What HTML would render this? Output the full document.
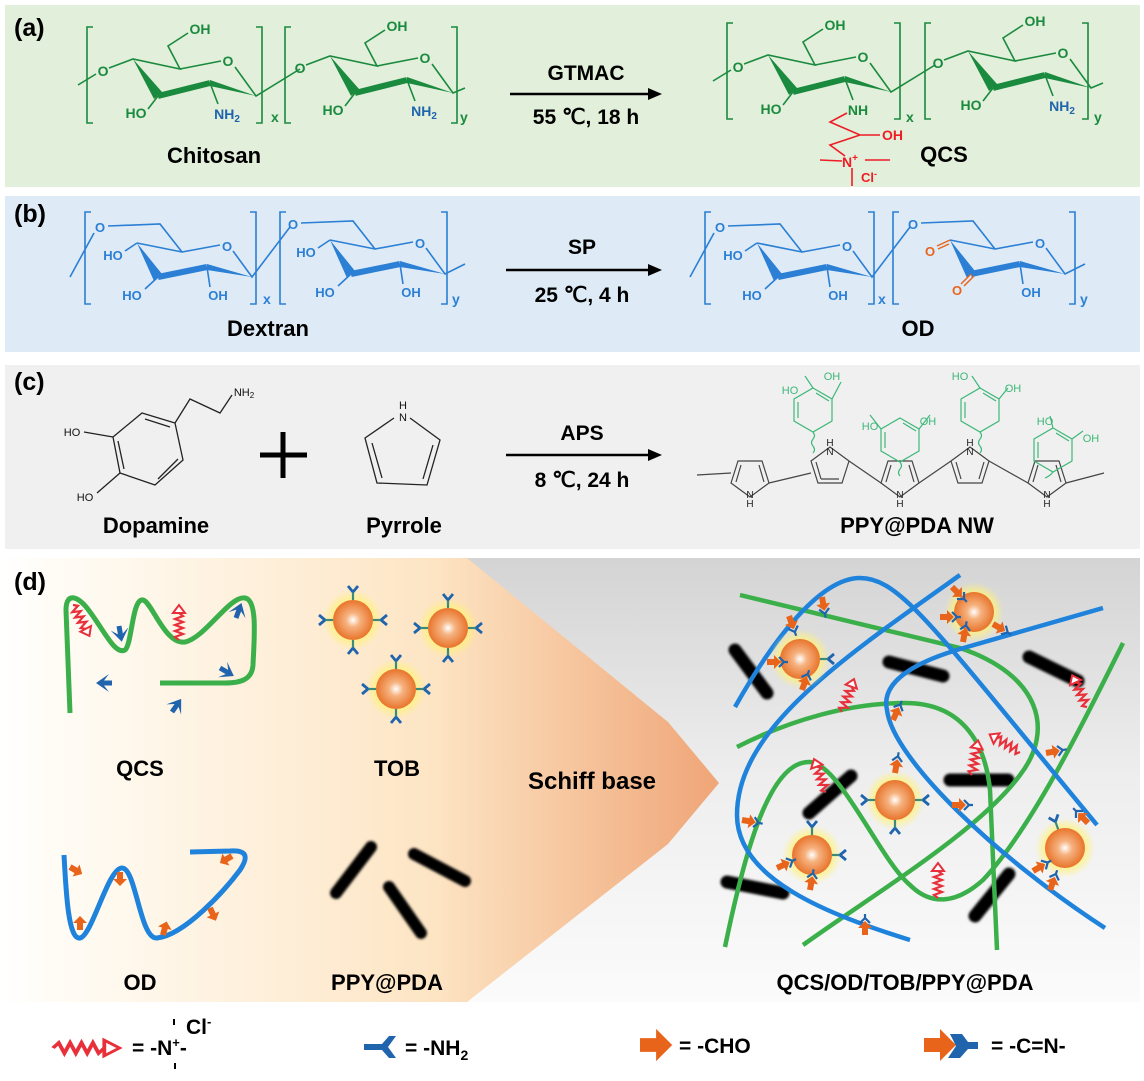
<!DOCTYPE html>
<html><head><meta charset="utf-8"><style>
html,body{margin:0;padding:0;background:#fff;}
svg{display:block;font-family:"Liberation Sans",Arial,sans-serif;}
.b{font-weight:bold;}
</style></head><body>
<svg width="1144" height="1081" viewBox="0 0 1144 1081" xmlns="http://www.w3.org/2000/svg">
<defs>
<linearGradient id="arr" x1="0" y1="0" x2="720" y2="0" gradientUnits="userSpaceOnUse">
<stop offset="0" stop-color="#ffffff"/><stop offset="0.1" stop-color="#fffbf3"/><stop offset="0.6" stop-color="#fde5c4"/><stop offset="1" stop-color="#efa577"/></linearGradient>
<linearGradient id="gr" x1="0" y1="558" x2="0" y2="1000" gradientUnits="userSpaceOnUse">
<stop offset="0" stop-color="#d4d4d4"/><stop offset="0.5" stop-color="#eeeeee"/><stop offset="1" stop-color="#fbfbfb"/></linearGradient>
<radialGradient id="sph" cx="0.5" cy="0.5" r="0.5"><stop offset="0" stop-color="#ffffff"/><stop offset="0.35" stop-color="#f6b27f"/><stop offset="1" stop-color="#e8742c"/></radialGradient>
<radialGradient id="glow" cx="0.5" cy="0.5" r="0.5"><stop offset="0.6" stop-color="#fff27a" stop-opacity="0.9"/><stop offset="1" stop-color="#fff27a" stop-opacity="0"/></radialGradient>
<filter id="bl" x="-20%" y="-20%" width="140%" height="140%"><feGaussianBlur stdDeviation="1.2"/></filter>
<g id="sp"><circle r="30" fill="url(#glow)"/><circle r="20" fill="url(#sph)"/></g>
<g id="nh"><line x1="0" y1="0" x2="9" y2="0" stroke="#3d8a7a" stroke-width="2.2"/><path d="M8,0 L14,-5 M8,0 L14,5" stroke="#1f64ad" stroke-width="2.8" fill="none"/></g>
<g id="tob"><use href="#sp"/><use href="#nh" transform="translate(20,0)"/><use href="#nh" transform="rotate(90) translate(20,0)"/><use href="#nh" transform="rotate(180) translate(20,0)"/><use href="#nh" transform="rotate(270) translate(20,0)"/></g>
<g id="zig"><polyline points="0,0 3,-4 6,4 9,-4 12,4 15,-4 18,4 21,-4 24,4 27,0" fill="none" stroke="#e8303a" stroke-width="2.2"/><polygon points="27,-6 35,0 27,6" fill="#fff" stroke="#e8303a" stroke-width="2"/></g>
<g id="cho"><polygon points="0,-3 7,-3 7,-7 14,0 7,7 7,3 0,3" fill="#e8641b"/></g>
<g id="blu"><polygon points="0,-2.5 8,-2.5 3,-9 16,0 3,9 8,2.5 0,2.5" fill="#1f64ad"/></g>
<g id="cn"><polygon points="0,-3 7,-3 7,-7 14,0 7,7 7,3 0,3" fill="#e8641b"/><path d="M12,-5 L17,0 L12,5 M17,0 H21" stroke="#1f64ad" stroke-width="2.2" fill="none"/></g>
</defs>

<rect x="5" y="5" width="1135" height="182" fill="#e2efda"/>
<rect x="5" y="196" width="1135" height="156" fill="#deebf7"/>
<rect x="5" y="365" width="1135" height="184" fill="#f0f0f0"/>
<rect x="467" y="558" width="673" height="444" fill="url(#gr)"/>
<polygon points="5,558 467,558 668,722 719,783 668,844 467,1002 5,1002" fill="url(#arr)"/>

<text x="14" y="36" font-size="25" class="b">(a)</text>
<text x="14" y="222" font-size="25" class="b">(b)</text>
<text x="14" y="390" font-size="25" class="b">(c)</text>
<text x="14" y="590" font-size="25" class="b">(d)</text>

<!-- (a) -->
<g stroke="#1a8a3e" stroke-width="1.6" fill="none">
<path d="M93,27 h-6 v96 h6 M256,27 h6 v96 h-6 M291,27 h-6 v96 h6 M451,27 h6 v96 h-6"/>
<path d="M733,23 h-6 v96 h6 M894,23 h6 v96 h-6 M931,23 h-6 v96 h6 M1082,23 h6 v96 h-6"/>
</g>
<g fill="#1a8a3e" class="b" font-size="14"><text x="271" y="122">x</text><text x="460" y="122">y</text><text x="906" y="122">x</text><text x="1094" y="122">y</text></g>

<g transform="translate(103,71)">
<g stroke="#1a8a3e" stroke-width="1.6" fill="none"><path d="M-25,14 L-7,3 M6,-3 L30,-12 L77,-2 L65,-25 L85,-38 M77,-2 L118,-10 M132,-4 L153,25 L197,-2 M55,25 L45,38 M107,12 L115,33"/><line x1="107" y1="12" x2="55" y2="25" stroke-width="6"/></g>
<polygon points="153,25 107,9 107,15" fill="#1a8a3e"/><polygon points="30,-12 51,28 59,21" fill="#1a8a3e"/>
<g fill="#1a8a3e" class="b" font-size="14" text-anchor="middle"><text x="0" y="5">O</text><text x="125" y="-5">O</text><text x="97" y="-37">OH</text><text x="33" y="47">HO</text></g>
<text x="124" y="48" class="b" font-size="14" text-anchor="middle" fill="#1f64ad">NH<tspan font-size="10" dy="3">2</tspan></text>
</g>
<g transform="translate(300,68)">
<g stroke="#1a8a3e" stroke-width="1.6" fill="none"><path d="M6,-3 L30,-12 L77,-2 L65,-25 L85,-38 M77,-2 L118,-10 M132,-4 L153,25 L165,20 M55,25 L45,38 M107,12 L115,33"/><line x1="107" y1="12" x2="55" y2="25" stroke-width="6"/></g>
<polygon points="153,25 107,9 107,15" fill="#1a8a3e"/><polygon points="30,-12 51,28 59,21" fill="#1a8a3e"/>
<g fill="#1a8a3e" class="b" font-size="14" text-anchor="middle"><text x="0" y="5">O</text><text x="125" y="-5">O</text><text x="97" y="-37">OH</text><text x="33" y="47">HO</text></g>
<text x="124" y="48" class="b" font-size="14" text-anchor="middle" fill="#1f64ad">NH<tspan font-size="10" dy="3">2</tspan></text>
</g>
<g transform="translate(738,67)">
<g stroke="#1a8a3e" stroke-width="1.6" fill="none"><path d="M-25,14 L-7,3 M6,-3 L30,-12 L77,-2 L65,-25 L85,-38 M77,-2 L118,-10 M132,-4 L153,25 L197,-2 M55,25 L45,38 M107,12 L115,33"/><line x1="107" y1="12" x2="55" y2="25" stroke-width="6"/></g>
<polygon points="153,25 107,9 107,15" fill="#1a8a3e"/><polygon points="30,-12 51,28 59,21" fill="#1a8a3e"/>
<g fill="#1a8a3e" class="b" font-size="14" text-anchor="middle"><text x="0" y="5">O</text><text x="125" y="-5">O</text><text x="97" y="-37">OH</text><text x="33" y="47">HO</text><text x="120" y="48">NH</text></g>
</g>
<g transform="translate(938,63)">
<g stroke="#1a8a3e" stroke-width="1.6" fill="none"><path d="M6,-3 L30,-12 L77,-2 L65,-25 L85,-38 M77,-2 L118,-10 M132,-4 L153,25 L165,20 M55,25 L45,38 M107,12 L115,33"/><line x1="107" y1="12" x2="55" y2="25" stroke-width="6"/></g>
<polygon points="153,25 107,9 107,15" fill="#1a8a3e"/><polygon points="30,-12 51,28 59,21" fill="#1a8a3e"/>
<g fill="#1a8a3e" class="b" font-size="14" text-anchor="middle"><text x="0" y="5">O</text><text x="125" y="-5">O</text><text x="97" y="-37">OH</text><text x="33" y="47">HO</text></g>
<text x="124" y="48" class="b" font-size="14" text-anchor="middle" fill="#1f64ad">NH<tspan font-size="10" dy="3">2</tspan></text>
</g>
<g stroke="#ee1c24" stroke-width="1.6" fill="none"><path d="M847,113 L830,122 L860,135 L880,135 M860,135 L830,145 L845,156 M820,160 L842,161 M865,160 L890,160 M852,168 L852,186"/></g>
<text x="850" y="167" fill="#ee1c24" class="b" font-size="14" text-anchor="middle">N<tspan font-size="10" dy="-6">+</tspan></text>
<text x="882" y="140" fill="#ee1c24" class="b" font-size="14">OH</text>
<text x="861" y="182" fill="#ee1c24" class="b" font-size="13">Cl<tspan font-size="9" dy="-5">-</tspan></text>
<text x="944" y="162" class="b" font-size="22" text-anchor="middle">QCS</text>
<text x="214" y="163" class="b" font-size="22" text-anchor="middle">Chitosan</text>
<line x1="510" y1="94" x2="650" y2="94" stroke="#000" stroke-width="2.5"/><polygon points="648,88 662,94 648,100" fill="#000"/>
<text x="586" y="80" class="b" font-size="21" text-anchor="middle">GTMAC</text>
<text x="586" y="124" class="b" font-size="21" text-anchor="middle">55 ℃, 18 h</text>

<!-- (b) -->
<g stroke="#2b7fd4" stroke-width="1.6" fill="none">
<path d="M91,212 h-6 v92 h6 M250,212 h6 v92 h-6 M286,212 h-6 v92 h6 M441,212 h6 v92 h-6"/>
<path d="M711,212 h-6 v92 h6 M868,212 h6 v92 h-6 M899,212 h-6 v92 h6 M1069,212 h6 v92 h-6"/>
</g>
<g fill="#2b7fd4" class="b" font-size="14"><text x="263" y="304">x</text><text x="452" y="304">y</text><text x="878" y="304">x</text><text x="1080" y="304">y</text></g>
<g transform="translate(100,227)">
<g stroke="#2b7fd4" stroke-width="1.6" fill="none"><path d="M-30,50 L-6,6 M8,-1 L60,-3 L82,25 L120,18 M133,24 L152,50 L190,0 M37,16 L82,25 M37,16 L25,24 M58,50 L45,62 M107,40 L110,60"/><line x1="107" y1="40" x2="58" y2="50" stroke-width="6"/></g>
<polygon points="152,50 107,37 107,43" fill="#2b7fd4"/><polygon points="37,16 54,54 62,47" fill="#2b7fd4"/>
<g fill="#2b7fd4" class="b" font-size="13" text-anchor="middle"><text x="0" y="5">O</text><text x="127" y="24">O</text><text x="13" y="33">HO</text><text x="32" y="73">HO</text><text x="118" y="73">OH</text></g>
</g>
<g transform="translate(293,224)">
<g stroke="#2b7fd4" stroke-width="1.6" fill="none"><path d="M8,-1 L60,-3 L82,25 L120,18 M133,24 L152,50 L172,40 M37,16 L82,25 M37,16 L25,24 M58,50 L45,62 M107,40 L110,60"/><line x1="107" y1="40" x2="58" y2="50" stroke-width="6"/></g>
<polygon points="152,50 107,37 107,43" fill="#2b7fd4"/><polygon points="37,16 54,54 62,47" fill="#2b7fd4"/>
<g fill="#2b7fd4" class="b" font-size="13" text-anchor="middle"><text x="0" y="5">O</text><text x="127" y="24">O</text><text x="13" y="33">HO</text><text x="32" y="73">HO</text><text x="118" y="73">OH</text></g>
</g>
<g transform="translate(720,227)">
<g stroke="#2b7fd4" stroke-width="1.6" fill="none"><path d="M-30,50 L-6,6 M8,-1 L60,-3 L82,25 L120,18 M133,24 L152,50 L190,0 M37,16 L82,25 M37,16 L25,24 M58,50 L45,62 M107,40 L110,60"/><line x1="107" y1="40" x2="58" y2="50" stroke-width="6"/></g>
<polygon points="152,50 107,37 107,43" fill="#2b7fd4"/><polygon points="37,16 54,54 62,47" fill="#2b7fd4"/>
<g fill="#2b7fd4" class="b" font-size="13" text-anchor="middle"><text x="0" y="5">O</text><text x="127" y="24">O</text><text x="13" y="33">HO</text><text x="32" y="73">HO</text><text x="118" y="73">OH</text></g>
</g>
<g transform="translate(913,224)">
<g stroke="#2b7fd4" stroke-width="1.6" fill="none"><path d="M8,-1 L60,-3 L82,25 L120,18 M133,24 L152,50 L172,40 M37,16 L82,25 M107,40 L110,60"/><line x1="107" y1="40" x2="58" y2="50" stroke-width="6"/></g>
<polygon points="152,50 107,37 107,43" fill="#2b7fd4"/><polygon points="37,16 54,54 62,47" fill="#2b7fd4"/>
<g stroke="#e8641b" stroke-width="1.5"><path d="M37,16 L24,22 M36,20 L25,25 M58,50 L48,60 M61,52 L51,62"/></g>
<g fill="#e8641b" class="b" font-size="13" text-anchor="middle"><text x="17" y="32">O</text><text x="44" y="71">O</text></g>
<g fill="#2b7fd4" class="b" font-size="13" text-anchor="middle"><text x="0" y="5">O</text><text x="127" y="24">O</text><text x="118" y="73">OH</text></g>
</g>
<text x="268" y="336" class="b" font-size="22" text-anchor="middle">Dextran</text>
<text x="918" y="336" class="b" font-size="22" text-anchor="middle">OD</text>
<line x1="506" y1="270" x2="650" y2="270" stroke="#000" stroke-width="2.5"/><polygon points="648,264 662,270 648,276" fill="#000"/>
<text x="582" y="254" class="b" font-size="21" text-anchor="middle">SP</text>
<text x="582" y="302" class="b" font-size="21" text-anchor="middle">25 ℃, 4 h</text>

<!-- (c) -->
<g stroke="#222" stroke-width="1.3" fill="none">
<polygon points="142,413 175,423 183,460 155,485 120,473 113,437"/>
<path d="M145,419 L170,427 M118,441 L124,469 M158,479 L178,459"/>
<path d="M84,432 L113,437 M97,493 L120,473 M175,423 L190,399 L220,413 L232,395"/>
<path d="M394,418 L365,438 L377,483 L427,485 L440,440 L410,418 M372,443 L382,478 M433,445 L423,479"/>
</g>
<g font-size="11" fill="#111" text-anchor="middle"><text x="72" y="436">HO</text><text x="85" y="501">HO</text><text x="244" y="396">NH<tspan font-size="8" dy="2">2</tspan></text><text x="403" y="409">H</text><text x="403" y="421">N</text></g>
<path d="M260,455 H307 M283,432 V478" stroke="#000" stroke-width="5"/>
<text x="156" y="533" class="b" font-size="22" text-anchor="middle">Dopamine</text>
<text x="404" y="533" class="b" font-size="22" text-anchor="middle">Pyrrole</text>
<line x1="506" y1="455" x2="650" y2="455" stroke="#000" stroke-width="2.5"/><polygon points="648,449 662,455 648,461" fill="#000"/>
<text x="582" y="440" class="b" font-size="21" text-anchor="middle">APS</text>
<text x="582" y="487" class="b" font-size="21" text-anchor="middle">8 ℃, 24 h</text>
<g stroke="#444" stroke-width="1.2" fill="none">
<path d="M697,475 L731,473"/>
<g transform="translate(750,477)"><polygon points="0,20 -19,6 -12,-16 12,-16 19,6"/><path d="M-14,5 L-9,-12 M9,-12 L14,5"/></g>
<path d="M769,483 L811,473"/>
<g transform="translate(830,467)"><polygon points="0,-20 -19,-6 -12,16 12,16 19,-6"/><path d="M-14,-5 L-9,12 M-9,12 L9,12"/></g>
<path d="M849,461 L881,483"/>
<g transform="translate(900,477)"><polygon points="0,20 -19,6 -12,-16 12,-16 19,6"/><path d="M-14,5 L-9,-12 M9,-12 L14,5"/></g>
<path d="M919,483 L951,461"/>
<g transform="translate(970,467)"><polygon points="0,-20 -19,-6 -12,16 12,16 19,-6"/><path d="M-14,-5 L-9,12 M9,12 L14,-5"/></g>
<path d="M989,461 L1028,483"/>
<g transform="translate(1047,477)"><polygon points="0,20 -19,6 -12,-16 12,-16 19,6"/><path d="M-14,5 L-9,-12 M9,-12 L14,5"/></g>
<path d="M1066,483 L1104,473"/>
</g>
<g font-size="10" fill="#222" text-anchor="middle"><text x="750" y="498">N</text><text x="750" y="507">H</text><text x="830" y="446">H</text><text x="830" y="455">N</text><text x="900" y="498">N</text><text x="900" y="507">H</text><text x="970" y="446">H</text><text x="970" y="455">N</text><text x="1047" y="498">N</text><text x="1047" y="507">H</text></g>
<g stroke="#3cb878" stroke-width="1.2" fill="none">
<g transform="translate(813,410)"><polygon points="0,-22 19,-11 19,11 0,22 -19,11 -19,-11"/><path d="M-15,-8 L-15,8 M3,-17 L16,-9"/><path d="M0,-22 L-8,-34 M19,-11 L28,-28 M0,22 q3,4 0,7 q-3,4 0,7 q3,4 0,7"/></g>
<g transform="translate(900,440)"><polygon points="0,-22 19,-11 19,11 0,22 -19,11 -19,-11"/><path d="M-15,-8 L-15,8 M3,-17 L16,-9"/><path d="M-19,-11 L-30,-25 M19,-11 L30,-25 M0,22 q3,4 0,7 q-3,4 0,7"/></g>
<g transform="translate(980,410)"><polygon points="0,-22 19,-11 19,11 0,22 -19,11 -19,-11"/><path d="M-15,-8 L-15,8 M3,-17 L16,-9"/><path d="M0,-22 L-8,-34 M19,-11 L28,-22 M0,22 q3,4 0,7 q-3,4 0,7 q3,4 0,7"/></g>
<g transform="translate(1053,450)"><polygon points="0,-22 19,-11 19,11 0,22 -19,11 -19,-11"/><path d="M-15,-8 L-15,8 M3,-17 L16,-9"/><path d="M0,-22 L-3,-34 M19,-11 L30,-19 M0,22 q-3,4 -8,6"/></g>
</g>
<g font-size="11" fill="#3cb878" text-anchor="middle"><text x="790" y="394">HO</text><text x="832" y="380">OH</text><text x="870" y="430">HO</text><text x="928" y="425">OH</text><text x="960" y="380">HO</text><text x="1013" y="392">OH</text><text x="1045" y="425">HO</text><text x="1091" y="442">OH</text></g>
<text x="917" y="533" class="b" font-size="22" text-anchor="middle">PPY@PDA NW</text>

<!-- (d) left -->
<path d="M70,713 L66,610 C66,592 78,595 90,612 C105,632 115,655 125,650 C132,645 132,598 143,600 C152,602 165,645 185,642 C205,638 230,595 245,598 C258,600 254,640 253,665 C252,680 240,683 225,683 L160,683" fill="none" stroke="#3bb04a" stroke-width="5"/>
<use href="#zig" transform="translate(73,605) rotate(62)"/>
<use href="#zig" transform="translate(179,640) rotate(-90)"/>
<use href="#blu" transform="translate(112,683) rotate(180)"/>
<use href="#blu" transform="translate(119,626) rotate(80)"/>
<use href="#blu" transform="translate(236,618) rotate(-70)"/>
<use href="#blu" transform="translate(220,668) rotate(30)"/>
<use href="#blu" transform="translate(172,712) rotate(-55)"/>
<use href="#tob" x="353" y="620"/>
<use href="#tob" x="448" y="628"/>
<use href="#tob" x="396" y="689"/>
<path d="M64,855 C66,890 68,940 80,938 C92,936 108,868 122,868 C136,868 140,940 157,938 C185,935 225,890 240,870 C250,855 245,850 230,851 L190,852" fill="none" stroke="#1f83dc" stroke-width="5"/>
<use href="#cho" transform="translate(70,867) rotate(30)"/>
<use href="#cho" transform="translate(120,872) rotate(90)"/>
<use href="#cho" transform="translate(80,930) rotate(-90)"/>
<use href="#cho" transform="translate(163,935) rotate(-75)"/>
<use href="#cho" transform="translate(232,856) rotate(150)"/>
<use href="#cho" transform="translate(210,908) rotate(65)"/>
<g stroke="#000" stroke-width="12" stroke-linecap="round" filter="url(#bl)"><line x1="336" y1="893" x2="371" y2="847"/><line x1="414" y1="854" x2="465" y2="881"/><line x1="389" y1="887" x2="421" y2="933"/></g>
<g class="b" font-size="22" text-anchor="middle"><text x="140" y="776">QCS</text><text x="397" y="776">TOB</text><text x="140" y="990">OD</text><text x="387" y="990">PPY@PDA</text><text x="592" y="789" font-size="24">Schiff base</text></g>

<!-- (d) right network -->
<g stroke="#000" stroke-width="13" stroke-linecap="round" filter="url(#bl)">
<line x1="735" y1="650" x2="767" y2="693"/><line x1="889" y1="662" x2="943" y2="676"/><line x1="1029" y1="657" x2="1078" y2="681"/><line x1="809" y1="813" x2="851" y2="776"/><line x1="950" y1="780" x2="1008" y2="780"/><line x1="727" y1="882" x2="783" y2="893"/><line x1="975" y1="916" x2="1009" y2="874"/>
</g>
<g fill="none" stroke-width="4.5">
<path d="M740,595 L960,648 C1040,675 1055,730 1020,775 C980,830 880,890 803,945" stroke="#3bb04a"/>
<path d="M737,747 C790,720 850,703 905,703 C960,703 985,740 990,790 L997,950" stroke="#3bb04a"/>
<path d="M725,947 C745,850 770,760 810,762 C840,764 880,860 910,885 C930,905 955,905 983,880 C1030,830 1080,730 1123,643" stroke="#3bb04a"/>
<path d="M735,707 C767,650 817,578 860,578 C900,578 933,627 1097,825" stroke="#1f83dc"/>
<path d="M960,575 C840,660 737,730 737,815 C737,880 830,915 910,940" stroke="#1f83dc"/>
<path d="M1103,608 L967,647 C920,660 880,680 887,710 C893,760 1000,860 1105,928" stroke="#1f83dc"/>
</g>
<use href="#sp" x="800" y="659"/><use href="#sp" x="974" y="612"/><use href="#sp" x="895" y="800"/><use href="#sp" x="812" y="855"/><use href="#sp" x="1065" y="848"/>
<use href="#nh" transform="translate(800,659) rotate(0) translate(20,0)"/>
<use href="#nh" transform="translate(895,800) rotate(0) translate(20,0)"/>
<use href="#nh" transform="translate(895,800) rotate(180) translate(20,0)"/>
<use href="#nh" transform="translate(895,800) rotate(90) translate(20,0)"/>
<use href="#nh" transform="translate(812,855) rotate(0) translate(20,0)"/>
<use href="#nh" transform="translate(812,855) rotate(-90) translate(20,0)"/>
<use href="#nh" transform="translate(1065,848) rotate(-110) translate(20,0)"/>
<use href="#cn" transform="translate(789,616) rotate(70)"/>
<use href="#cn" transform="translate(767,662) rotate(0)"/>
<use href="#cn" transform="translate(802,690) rotate(-70)"/>
<use href="#cn" transform="translate(952,587) rotate(45)"/>
<use href="#cn" transform="translate(940,617) rotate(0)"/>
<use href="#cn" transform="translate(963,642) rotate(-80)"/>
<use href="#cn" transform="translate(993,624) rotate(30)"/>
<use href="#cn" transform="translate(822,597) rotate(80)"/>
<use href="#cn" transform="translate(895,773) rotate(-80)"/>
<use href="#cn" transform="translate(952,805) rotate(0)"/>
<use href="#cn" transform="translate(742,820) rotate(10)"/>
<use href="#cn" transform="translate(777,868) rotate(-25)"/>
<use href="#cn" transform="translate(810,890) rotate(-80)"/>
<use href="#cn" transform="translate(865,935) rotate(-90)"/>
<use href="#cn" transform="translate(893,720) rotate(-65)"/>
<use href="#cn" transform="translate(1033,871) rotate(-30)"/>
<use href="#cn" transform="translate(1050,890) rotate(-70)"/>
<use href="#cn" transform="translate(1088,823) rotate(-135)"/>
<use href="#cn" transform="translate(1046,753) rotate(-10)"/>
<use href="#zig" transform="translate(842,712) rotate(-70)"/>
<use href="#zig" transform="translate(1087,707) rotate(-115)"/>
<use href="#zig" transform="translate(1020,752) rotate(-150)"/>
<use href="#zig" transform="translate(972,775) rotate(-80)"/>
<use href="#zig" transform="translate(826,792) rotate(-110)"/>
<use href="#zig" transform="translate(938,898) rotate(-90)"/>
<text x="905" y="990" class="b" font-size="22" text-anchor="middle">QCS/OD/TOB/PPY@PDA</text>

<!-- legend -->
<use href="#zig" transform="translate(53,1048) scale(1.9,1.3)"/>
<text x="132" y="1055" class="b" font-size="21">= -N<tspan font-size="13" dy="-8">+</tspan><tspan dy="8">-</tspan></text>
<path d="M174,1019 v6 M175,1063 v6" stroke="#000" stroke-width="2"/>
<text x="186" y="1034" class="b" font-size="21">Cl<tspan font-size="13" dy="-8">-</tspan></text>
<polygon points="364,1044 382,1044 389,1036 396,1036 388,1047 396,1058 389,1058 382,1050 364,1050" fill="#1f64ad"/>
<text x="405" y="1055" class="b" font-size="21">= -NH<tspan font-size="14" dy="5">2</tspan></text>
<use href="#cho" transform="translate(640,1045) scale(2.3)"/>
<text x="679" y="1053" class="b" font-size="21">= -CHO</text>
<polygon points="924,1038 940,1038 940,1029 956,1045 940,1061 940,1052 924,1052" fill="#e8641b"/>
<polygon points="950,1034 962,1034 968,1042 978,1042 978,1049 968,1049 960,1058 948,1058 956,1046" fill="#1f64ad"/>
<text x="991" y="1053" class="b" font-size="21">= -C=N-</text>
</svg>
</body></html>
